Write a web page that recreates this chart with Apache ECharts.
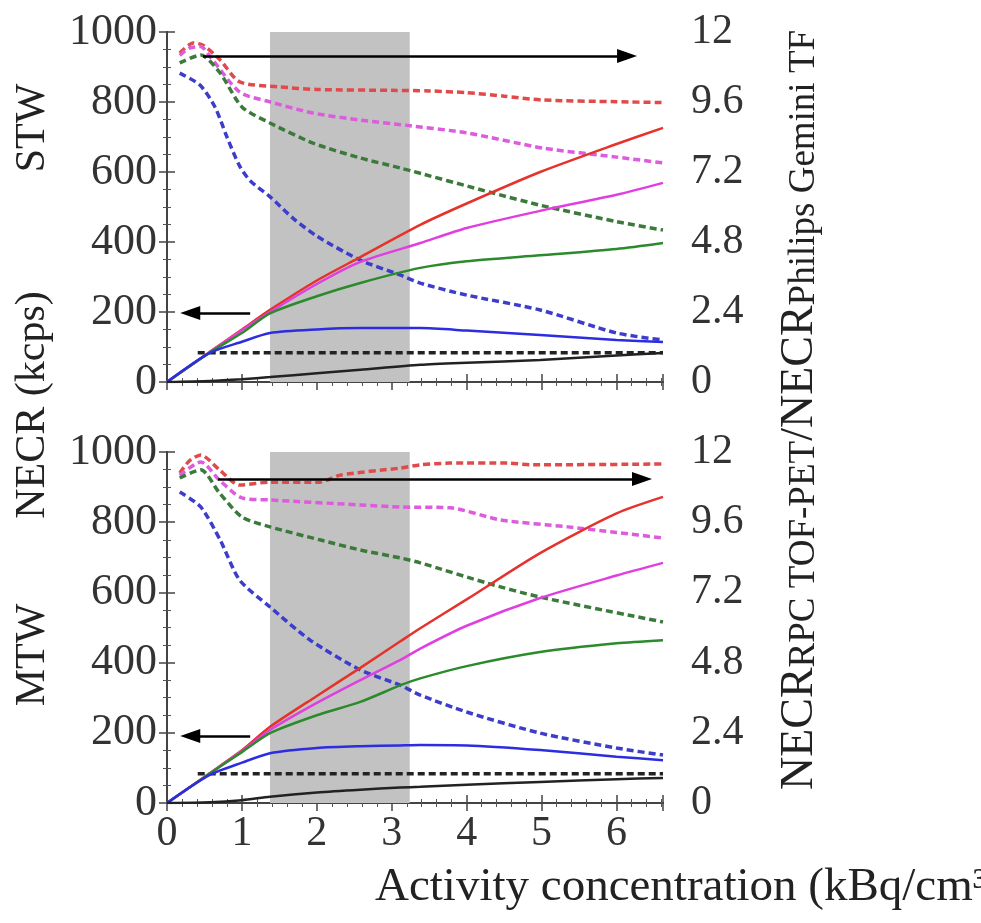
<!DOCTYPE html>
<html><head><meta charset="utf-8">
<script src="https://cdn.jsdelivr.net/npm/echarts@6/dist/echarts.min.js"></script>
<style>html,body{margin:0;padding:0;background:#fff}#c{width:981px;height:923px}</style>
</head><body><div id="c"></div>
<script>
// ---------- data ----------
const xMin = 0, xMax = 6.62;
const necrMax = 1000, ratioMax = 12;
const shadedBand = [1.375, 3.24];
const refRatio = 1.0, refRatioStartX = 0.41;

// STW panel: ratio curves (right axis)
const stwRedRatioX = [0.17,0.35,0.48,0.71,0.97,1.5,2.0,3.0,3.5,4.0,4.5,5.0,6.0,6.62];
const stwRedRatio  = [11.28,11.62,11.55,11.04,10.29,10.12,10.03,10.0,9.98,9.92,9.8,9.67,9.61,9.58];
const stwMagRatioX = [0.17,0.3,0.45,0.58,0.97,1.38,1.95,2.58,3.2,4.0,5.02,6.0,6.62];
const stwMagRatio  = [11.2,11.45,11.5,11.14,9.94,9.6,9.22,8.98,8.8,8.54,8.02,7.71,7.51];
const stwGrnRatioX = [0.17,0.45,0.71,1.0,1.375,1.95,2.58,3.11,4.35,5.0,6.0,6.62];
const stwGrnRatio  = [10.94,11.21,10.59,9.43,8.88,8.19,7.68,7.34,6.48,6.05,5.5,5.21];
const stwBluRatioX = [0.17,0.44,0.64,0.8,0.97,1.11,1.38,1.68,2.0,2.58,3.11,3.38,4.0,4.98,6.0,6.62];
const stwBluRatio  = [10.59,10.18,9.43,8.4,7.4,6.9,6.34,5.62,5.0,4.18,3.67,3.39,2.98,2.47,1.68,1.44];

// STW panel: NECR curves (left axis, kcps)
const stwNecrX = [0,0.57,1.0,1.375,2.0,2.58,3.38,4.0,4.98,6.0,6.62];
const stwRedNecr = [0,86,150,206,290,357,449,510,600,680,726];
const stwMagNecr = [0,85,148,200,280,343,397,440,489,535,569];
const stwGrnNecr = [0,84,140,196,245,283,326,345,362,380,397];
const stwBluNecr = [0,83,115,140,150,154,154,147,134,120,114];
const stwBlkNecr = [0,3,8,14,25,35,49,55,63,76,83];

// MTW panel: ratio curves (right axis)
const mtwRedRatioX = [0.17,0.3,0.45,0.7,0.97,1.375,2.04,2.31,3.11,3.38,3.78,4.54,4.89,6.62];
const mtwRedRatio  = [11.28,11.7,11.9,11.39,10.87,10.97,10.97,11.21,11.45,11.56,11.62,11.62,11.56,11.59];
const mtwMagRatioX = [0.17,0.45,0.7,1.0,1.375,2.58,3.11,3.78,4.45,5.35,6.0,6.62];
const mtwMagRatio  = [11.2,11.66,11.04,10.43,10.36,10.19,10.12,10.09,9.68,9.44,9.25,9.06];
const mtwGrnRatioX = [0.17,0.45,0.7,1.0,1.375,2.05,2.58,3.11,3.38,4.27,4.98,6.62];
const mtwGrnRatio  = [11.11,11.39,10.6,9.78,9.44,8.99,8.65,8.38,8.21,7.52,7.04,6.19];
const mtwBluRatioX = [0.17,0.45,0.71,0.97,1.375,1.91,2.58,3.11,3.38,4.0,4.98,6.0,6.62];
const mtwBluRatio  = [10.63,10.12,8.99,7.62,6.7,5.57,4.55,4.03,3.69,3.11,2.39,1.88,1.64];

// MTW panel: NECR curves (left axis, kcps)
const mtwNecrX = [0,0.57,1.0,1.375,2.0,2.58,3.11,3.38,4.0,4.98,6.0,6.62];
const mtwRedNecr = [0,85,150,217,305,385,460,498,580,712,825,872];
const mtwMagNecr = [0,84,148,208,285,350,407,440,505,584,648,684];
const mtwGrnNecr = [0,84,145,199,250,288,335,355,390,430,455,464];
const mtwBluNecr = [0,80,115,142,157,162,164,165,164,151,132,122];
const mtwBlkNecr = [0,2,8,18,30,38,44,46,52,60,68,71];

// annotation arrows: [xStart, xEnd, y]
const stwArrowRatio = [0.48, 6.14, 11.18];
const stwArrowNecr  = [1.11, 0.31, 197];
const mtwArrowRatio = [0.68, 6.34, 11.08];
const mtwArrowNecr  = [1.11, 0.31, 191];

// ---------- styling ----------
const C = {red:'#e5322b', redD:'#e04a4a', mag:'#e03fe0', magD:'#dd5cdd',
           grn:'#2b8a2b', grnD:'#3b7a3b', blu:'#2c2ce0', bluD:'#3d3dcc', blk:'#222'};
const serif = 'Liberation Serif';
const pairs = (xs, ys) => xs.map((x,i)=>[x, ys[i]]);

function line(xs, ys, color, dashed, xi, yi, extra) {
  return Object.assign({
    type:'line', data: pairs(xs, ys), xAxisIndex:xi, yAxisIndex:yi,
    showSymbol:false, smooth:0.25, z:3, silent:true, animation:false,
    lineStyle:{color, width: dashed?3.5:2.5, type: dashed?[7,4]:'solid'}
  }, extra||{});
}
function arrowML(a) {
  return {silent:true, animation:false, symbol:['none','triangle'], symbolSize:[14,20],
    label:{show:false}, lineStyle:{color:'#000', width:2.5, type:'solid'},
    itemStyle:{color:'#000'},
    data:[[{coord:[a[0],a[2]]},{coord:[a[1],a[2]]}]]};
}

const grids = [
  {left:167, top:32, width:496, height:350},
  {left:167, top:452, width:496, height:351}
];
const frameLine = {show:true, lineStyle:{color:'#444', width:2}};
function xAx(gi, pos, labels) {
  return {type:'value', gridIndex:gi, position:pos, min:xMin, max:xMax, interval:1,
    axisLine:frameLine, splitLine:{show:false},
    axisTick:{show:true, inside:true, length:8, lineStyle:{color:'#444', width:1.5}},
    minorTick:{show:true, splitNumber:5, length:4, lineStyle:{color:'#555'}},
    axisLabel:{show:labels, fontFamily:serif, fontSize:42, color:'#333', margin:10,
      showMaxLabel:false, formatter:v => Number.isInteger(v) ? String(v) : ''}};
}
function yAx(gi, pos, max, interval, size, margin) {
  return {type:'value', gridIndex:gi, position:pos, min:0, max, interval,
    axisLine:frameLine, splitLine:{show:false},
    axisTick:{show:true, inside:true, length:8, lineStyle:{color:'#444', width:1.5}},
    minorTick:{show:true, splitNumber:4, length:4, lineStyle:{color:'#555'}},
    axisLabel:{fontFamily:serif, fontSize:size, color:'#333', margin,
      formatter:v => String(+v.toFixed(1))}};
}

const series = [];
[0,1].forEach(g => {
  series.push({type:'line', data:[], xAxisIndex:g*2, yAxisIndex:g*2, z:1, silent:true,
    markArea:{silent:true, itemStyle:{color:'#c2c2c2'},
      data:[[{xAxis:shadedBand[0]},{xAxis:shadedBand[1]}]]}});
});
// STW
series.push(line(stwRedRatioX, stwRedRatio, C.redD, true, 0, 1));
series.push(line(stwMagRatioX, stwMagRatio, C.magD, true, 0, 1));
series.push(line(stwGrnRatioX, stwGrnRatio, C.grnD, true, 0, 1));
series.push(line(stwBluRatioX, stwBluRatio, C.bluD, true, 0, 1));
series.push(line([refRatioStartX, xMax], [refRatio, refRatio], C.blk, true, 0, 1,
  {smooth:false, markLine: arrowML(stwArrowRatio)}));
series.push(line(stwNecrX, stwRedNecr, C.red, false, 0, 0));
series.push(line(stwNecrX, stwMagNecr, C.mag, false, 0, 0));
series.push(line(stwNecrX, stwGrnNecr, C.grn, false, 0, 0));
series.push(line(stwNecrX, stwBluNecr, C.blu, false, 0, 0));
series.push(line(stwNecrX, stwBlkNecr, C.blk, false, 0, 0, {markLine: arrowML(stwArrowNecr)}));
// MTW
series.push(line(mtwRedRatioX, mtwRedRatio, C.redD, true, 2, 3));
series.push(line(mtwMagRatioX, mtwMagRatio, C.magD, true, 2, 3));
series.push(line(mtwGrnRatioX, mtwGrnRatio, C.grnD, true, 2, 3));
series.push(line(mtwBluRatioX, mtwBluRatio, C.bluD, true, 2, 3));
series.push(line([refRatioStartX, xMax], [refRatio, refRatio], C.blk, true, 2, 3,
  {smooth:false, markLine: arrowML(mtwArrowRatio)}));
series.push(line(mtwNecrX, mtwRedNecr, C.red, false, 2, 2));
series.push(line(mtwNecrX, mtwMagNecr, C.mag, false, 2, 2));
series.push(line(mtwNecrX, mtwGrnNecr, C.grn, false, 2, 2));
series.push(line(mtwNecrX, mtwBluNecr, C.blu, false, 2, 2));
series.push(line(mtwNecrX, mtwBlkNecr, C.blk, false, 2, 2, {markLine: arrowML(mtwArrowNecr)}));

const titleStyle = {fontFamily:serif, fontSize:42, fill:'#222', align:'center', verticalAlign:'middle'};
const option = {
  backgroundColor:'#ffffff',
  animation:false,
  grid: grids,
  xAxis: [xAx(0,'bottom',false), xAx(0,'top',false), xAx(1,'bottom',true), xAx(1,'top',false)],
  yAxis: [yAx(0,'left',necrMax,200,44,10), yAx(0,'right',ratioMax,2.4,42,28),
          yAx(1,'left',necrMax,200,44,10), yAx(1,'right',ratioMax,2.4,42,28)],
  series,
  graphic: [
    {type:'text', x:33, y:128, rotation:Math.PI/2, style:Object.assign({text:'STW'}, titleStyle)},
    {type:'text', x:33, y:405, rotation:Math.PI/2, style:Object.assign({text:'NECR (kcps)'}, titleStyle)},
    {type:'text', x:33, y:655, rotation:Math.PI/2, style:Object.assign({text:'MTW'}, titleStyle)},
    {type:'text', x:800, y:410, rotation:Math.PI/2, style:{
      text:'{m|NECR}{s|RPC TOF-PET}{m|/NECR}{s|Philips Gemini TF}',
      align:'center', verticalAlign:'middle', fill:'#222', fontFamily:serif,
      rich:{
        m:{fontFamily:serif, fontSize:46, fill:'#222', lineHeight:46, verticalAlign:'top'},
        s:{fontFamily:serif, fontSize:37, fill:'#222', lineHeight:37, padding:[22,0,0,0], verticalAlign:'bottom'}
      }}},
    {type:'text', x:375, y:888, style:{text:'Activity concentration (kBq/cm³)',
      fontFamily:serif, fontSize:47, fill:'#222', align:'left', verticalAlign:'middle'}}
  ]
};
const chart = echarts.init(document.getElementById('c'), null, {renderer:'canvas'});
chart.setOption(option);
</script></body></html>
